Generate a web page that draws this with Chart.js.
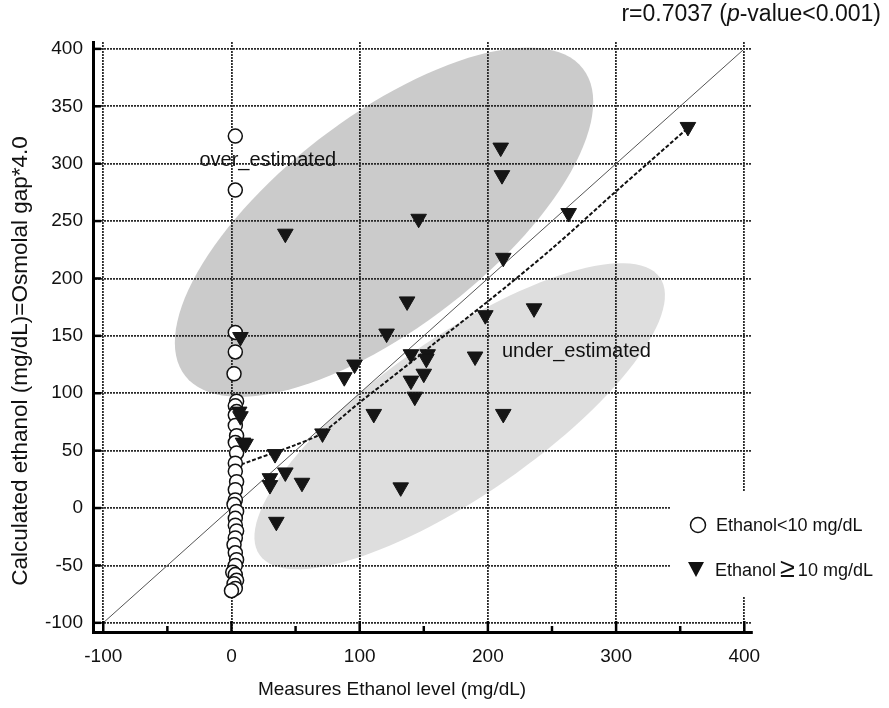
<!DOCTYPE html>
<html>
<head>
<meta charset="utf-8">
<script src="https://cdn.jsdelivr.net/npm/chart.js@4.4.0/dist/chart.umd.min.js"></script>
<style>
html, body { margin: 0; padding: 0; background: #fff; }
</style>
</head>
<body>
<canvas id="myChart" width="889" height="708"></canvas>
<script>
// Ethanol < 10 mg/dL (open circles)
var lowX = [3, 3, 3, 3, 2, 4, 3, 4, 3, 3, 4, 3, 4, 3, 3, 4, 3, 3, 2, 4, 3, 3, 4, 3, 2, 3, 4, 3, 1, 3, 4, 2, 3, 0];
var lowY = [324, 277, 153, 136, 117, 93, 89, 84, 81, 72, 63, 57, 48, 39, 32, 23, 16, 7, 3, -3, -9, -15, -20, -26, -32, -39, -45, -50, -56, -58, -63, -66, -70, -72];

// Ethanol >= 10 mg/dL (filled triangles)
var highX = [356, 210, 211, 263, 146, 42, 212, 236, 198, 137, 121, 7, 96, 88, 140, 153, 152, 190, 140, 150, 143, 111, 212, 71, 34, 30, 30, 42, 55, 132, 35, 6, 7, 9, 11];
var highY = [332, 314, 290, 257, 252, 239, 218, 174, 168, 180, 152, 149, 125, 114, 134, 134, 130, 132, 111, 117, 97, 82, 82, 65, 47, 26, 20, 31, 22, 18, -12, 84, 80, 57, 56];

// smoothed fit (dashed)
var fitX = [3, 15, 30, 50, 70, 100, 140, 160, 200, 250, 300, 358];
var fitY = [36, 41, 47, 55, 65, 92, 127, 145, 180, 226, 276, 333];

// line of identity
var refX = [-100, 400];
var refY = [-100, 400];

var xTicks = [-100, 0, 100, 200, 300, 400];
var yTicks = [-100, -50, 0, 50, 100, 150, 200, 250, 300, 350, 400];

var FONT = "'Liberation Sans', Arial, sans-serif";

function toPoints(xs, ys) {
    return xs.map(function(x, i) { return { x: x, y: ys[i] }; });
}

// shaded regions, centre and half-axes in data units
var regions = [
    { cx: 119, cy: 249, ux: 155, uy: 134, vx: 51, vy: -72, color: '#cbcbcb' },
    { cx: 178, cy: 80, ux: 156, uy: 121, vx: 36, vy: -56, color: '#dedede' }
];

var backgroundPlugin = {
    id: 'background',
    beforeDraw: function(chart) {
        var ctx = chart.ctx, xs = chart.scales.x, ys = chart.scales.y, a = chart.chartArea;
        ctx.save();
        ctx.fillStyle = '#fff';
        ctx.fillRect(0, 0, chart.width, chart.height);
        ctx.beginPath();
        ctx.rect(a.left, a.top, a.right - a.left, a.bottom - a.top);
        ctx.clip();
        regions.forEach(function(r) {
            ctx.beginPath();
            for (var i = 0; i <= 120; i++) {
                var t = i / 120 * Math.PI * 2;
                var dx = r.cx + r.ux * Math.cos(t) + r.vx * Math.sin(t);
                var dy = r.cy + r.uy * Math.cos(t) + r.vy * Math.sin(t);
                var px = xs.getPixelForValue(dx), py = ys.getPixelForValue(dy);
                if (i === 0) ctx.moveTo(px, py); else ctx.lineTo(px, py);
            }
            ctx.closePath();
            ctx.fillStyle = r.color;
            ctx.fill();
        });
        ctx.restore();
    }
};

var overlayPlugin = {
    id: 'overlay',
    afterDraw: function(chart) {
        var ctx = chart.ctx, xs = chart.scales.x, ys = chart.scales.y, a = chart.chartArea;
        ctx.save();

        // inward tick marks
        ctx.strokeStyle = '#000';
        ctx.lineWidth = 2.5;
        xTicks.forEach(function(v) {
            var px = xs.getPixelForValue(v);
            ctx.beginPath(); ctx.moveTo(px, a.bottom); ctx.lineTo(px, a.bottom - 11); ctx.stroke();
            if (v < 400) {
                var pm = xs.getPixelForValue(v + 50);
                ctx.beginPath(); ctx.moveTo(pm, a.bottom); ctx.lineTo(pm, a.bottom - 6); ctx.stroke();
            }
        });
        yTicks.forEach(function(v) {
            var py = ys.getPixelForValue(v);
            ctx.beginPath(); ctx.moveTo(a.left, py); ctx.lineTo(a.left + 8, py); ctx.stroke();
        });

        // region labels
        ctx.fillStyle = '#111';
        ctx.font = '20px ' + FONT;
        ctx.textBaseline = 'middle';
        ctx.textAlign = 'left';
        ctx.fillText('over_estimated', xs.getPixelForValue(-25), ys.getPixelForValue(303));
        ctx.fillText('under_estimated', xs.getPixelForValue(211), ys.getPixelForValue(136));

        // axis titles
        ctx.textAlign = 'center';
        ctx.font = '19px ' + FONT;
        ctx.fillText('Measures Ethanol level (mg/dL)', 392, 690);
        ctx.save();
        ctx.translate(21, 361);
        ctx.rotate(-Math.PI / 2);
        ctx.font = '22.5px ' + FONT;
        ctx.fillText('Calculated ethanol (mg/dL)=Osmolal gap*4.0', 0, 0);
        ctx.restore();

        // correlation note, top right
        var parts = [['r=0.7037 (', '23px '], ['p', 'italic 23px '], ['-value<0.001)', '23px ']];
        var total = 0;
        parts.forEach(function(p) { ctx.font = p[1] + FONT; total += ctx.measureText(p[0]).width; });
        var tx = 881 - total;
        ctx.textAlign = 'left';
        parts.forEach(function(p) {
            ctx.font = p[1] + FONT;
            ctx.fillText(p[0], tx, 15);
            tx += ctx.measureText(p[0]).width;
        });

        // legend
        ctx.fillStyle = '#fff';
        ctx.fillRect(670, 492, 219, 104);
        ctx.beginPath();
        ctx.arc(698, 525, 7.5, 0, Math.PI * 2);
        ctx.fillStyle = '#fff';
        ctx.fill();
        ctx.lineWidth = 1.5;
        ctx.strokeStyle = '#111';
        ctx.stroke();
        ctx.beginPath();
        ctx.moveTo(688, 562); ctx.lineTo(704, 562); ctx.lineTo(696, 577); ctx.closePath();
        ctx.fillStyle = '#111';
        ctx.fill();
        ctx.font = '18px ' + FONT;
        ctx.fillText('Ethanol<10 mg/dL', 716, 526);
        var lx = 715;
        ctx.fillText('Ethanol', lx, 571);
        lx += ctx.measureText('Ethanol').width + 4;
        ctx.font = '27px ' + FONT;
        ctx.fillText('\u2265', lx, 570);
        lx += ctx.measureText('\u2265').width + 3;
        ctx.font = '18px ' + FONT;
        ctx.fillText('10 mg/dL', lx, 571);

        ctx.restore();
    }
};

var ctx = document.getElementById('myChart').getContext('2d');
window.myScatter = new Chart(ctx, {
    type: 'scatter',
    data: {
        datasets: [{
            label: 'Ethanol\u226510 mg/dL',
            data: toPoints(highX, highY),
            pointStyle: 'triangle',
            rotation: 180,
            radius: 9,
            backgroundColor: '#151515',
            borderColor: '#151515',
            borderWidth: 1,
            order: 0
        }, {
            label: 'Ethanol<10 mg/dL',
            data: toPoints(lowX, lowY),
            pointStyle: 'circle',
            radius: 7,
            backgroundColor: '#fff',
            borderColor: '#111',
            borderWidth: 1.5,
            order: 1
        }, {
            label: 'fit',
            data: toPoints(fitX, fitY),
            showLine: true,
            tension: 0.3,
            borderColor: '#111',
            borderWidth: 2,
            borderDash: [4, 2],
            pointRadius: 0,
            order: 2
        }, {
            label: 'identity',
            data: toPoints(refX, refY),
            showLine: true,
            borderColor: '#555',
            borderWidth: 1,
            pointRadius: 0,
            order: 3
        }]
    },
    options: {
        responsive: false,
        animation: false,
        events: [],
        layout: { padding: { top: 42, right: 137, left: 0, bottom: 0 } },
        plugins: {
            legend: { display: false },
            title: { display: false },
            tooltip: { enabled: false }
        },
        scales: {
            x: {
                type: 'linear',
                min: -108,
                max: 406,
                afterFit: function(scale) { scale.height = 76; },
                afterBuildTicks: function(scale) {
                    scale.ticks = xTicks.map(function(v) { return { value: v }; });
                },
                grid: { color: '#2a2a2a', lineWidth: 1.8, drawTicks: false },
                border: { display: true, color: '#000', width: 3, dash: [2, 1] },
                ticks: { color: '#111', padding: 13, font: { family: FONT, size: 19 }, maxRotation: 0 }
            },
            y: {
                type: 'linear',
                min: -108,
                max: 406,
                afterFit: function(scale) { scale.width = 93; },
                afterBuildTicks: function(scale) {
                    scale.ticks = yTicks.map(function(v) { return { value: v }; });
                },
                grid: { color: '#2a2a2a', lineWidth: 1.8, drawTicks: false },
                border: { display: true, color: '#000', width: 3, dash: [2, 1] },
                ticks: { color: '#111', padding: 10, font: { family: FONT, size: 19 } }
            }
        }
    },
    plugins: [backgroundPlugin, overlayPlugin]
});
</script>
</body>
</html>
